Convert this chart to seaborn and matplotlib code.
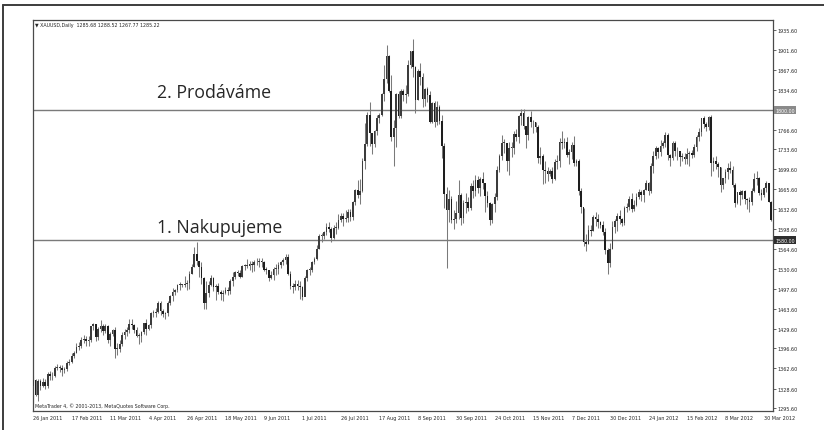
import seaborn as sns
import matplotlib.pyplot as plt
import pandas as pd
from matplotlib.lines import Line2D

# XAUUSD daily, 26 Jan 2011 .. 4 Apr 2012 (one entry per bar)
first_open = 1333
closes = [
    1343, 1318, 1341, 1333,  # Jan 2011
    1340, 1333, 1353, 1349, 1350, 1364, 1364, 1364, 1360, 1362, 1372, 1374, 1383, 1388, 1399, 1401, 1411, 1413, 1409, 1411,  # Feb
    1434, 1437, 1416, 1429, 1435, 1426, 1435, 1411, 1421, 1427, 1396, 1396, 1404, 1419, 1425, 1427, 1438, 1436, 1428, 1418, 1418, 1424, 1439,  # Mar
    1429, 1436, 1456, 1456, 1458, 1474, 1460, 1455, 1456, 1474, 1486, 1492, 1496, 1504, 1504, 1504, 1506, 1507, 1523, 1535, 1556,  # Apr
    1544, 1535, 1515, 1474, 1491, 1504, 1516, 1500, 1502, 1492, 1489, 1491, 1496, 1493, 1511, 1517, 1526, 1525, 1518, 1536, 1536, 1536,  # May
    1540, 1537, 1542, 1543, 1545, 1542, 1530, 1529, 1516, 1520, 1531, 1531, 1538, 1542, 1546, 1551, 1523, 1502, 1500, 1506, 1503, 1500,  # Jun
    1483, 1515, 1530, 1530, 1542, 1548, 1565, 1587, 1587, 1594, 1602, 1599, 1583, 1601, 1601, 1614, 1620, 1616, 1617, 1628,  # Jul
    1619, 1644, 1665, 1657, 1663, 1713, 1742, 1792, 1761, 1743, 1764, 1787, 1792, 1827, 1852, 1891, 1833, 1755, 1770, 1828, 1790, 1833, 1826,  # Aug
    1828, 1876, 1900, 1873, 1817, 1866, 1856, 1818, 1835, 1825, 1780, 1812, 1779, 1806, 1782, 1740, 1658, 1630, 1650, 1614, 1616, 1625,  # Sep
    1657, 1618, 1642, 1645, 1635, 1672, 1663, 1682, 1668, 1683, 1676, 1654, 1642, 1614, 1641, 1653, 1698, 1722, 1745, 1745, 1714,  # Oct
    1736, 1736, 1760, 1755, 1790, 1795, 1773, 1758, 1788, 1780, 1779, 1771, 1719, 1723, 1698, 1697, 1692, 1697, 1683, 1712, 1714, 1746,  # Nov
    1745, 1746, 1724, 1729, 1741, 1710, 1714, 1663, 1636, 1576, 1574, 1597, 1596, 1619, 1616, 1610, 1606, 1594, 1563, 1541, 1565,  # Dec
    1602, 1612, 1620, 1616, 1609, 1634, 1636, 1650, 1633, 1640, 1653, 1661, 1656, 1665, 1677, 1663, 1706, 1722, 1735, 1729, 1739,  # Jan 2012
    1745, 1757, 1724, 1719, 1745, 1731, 1730, 1721, 1721, 1718, 1726, 1728, 1724, 1737, 1755, 1763, 1786, 1776, 1772, 1788, 1711,  # Feb
    1713, 1709, 1703, 1673, 1685, 1696, 1702, 1698, 1673, 1643, 1661, 1657, 1663, 1649, 1648, 1644, 1663, 1684, 1685, 1660, 1657, 1668,  # Mar
    1677, 1645, 1614,  # Apr
]
highs = [
    1349, 1345, 1345, 1345,
    1346, 1345, 1356, 1358, 1357, 1367, 1370, 1368, 1369, 1365, 1376, 1378, 1388, 1392, 1405, 1408, 1416, 1420, 1417, 1418,
    1435, 1440, 1438, 1432, 1444, 1437, 1438, 1436, 1425, 1430, 1433, 1405, 1410, 1424, 1429, 1432, 1446, 1447, 1438, 1432, 1423, 1426, 1440,
    1446, 1438, 1458, 1462, 1465, 1477, 1476, 1464, 1458, 1476, 1487, 1498, 1497, 1505, 1509, 1506, 1519, 1512, 1527, 1540, 1569,
    1577, 1545, 1543, 1518, 1511, 1510, 1520, 1518, 1505, 1508, 1495, 1495, 1501, 1500, 1514, 1526, 1527, 1530, 1530, 1537, 1540, 1548,
    1545, 1545, 1547, 1549, 1550, 1549, 1545, 1535, 1530, 1527, 1534, 1540, 1542, 1545, 1550, 1557, 1557, 1528, 1507, 1512, 1513, 1510,
    1503, 1519, 1531, 1535, 1545, 1552, 1571, 1590, 1592, 1595, 1608, 1610, 1602, 1605, 1610, 1624, 1625, 1626, 1631, 1632,
    1632, 1646, 1667, 1681, 1684, 1719, 1778, 1797, 1814, 1762, 1767, 1792, 1795, 1829, 1877, 1911, 1893, 1860, 1783, 1829, 1833, 1836, 1836,
    1842, 1884, 1900, 1921, 1874, 1869, 1880, 1863, 1838, 1839, 1833, 1814, 1815, 1816, 1808, 1792, 1745, 1670, 1665, 1654, 1630, 1646,
    1681, 1660, 1648, 1660, 1653, 1676, 1682, 1690, 1689, 1686, 1695, 1665, 1663, 1645, 1643, 1660, 1706, 1725, 1758, 1751, 1745,
    1746, 1746, 1765, 1768, 1792, 1802, 1801, 1770, 1790, 1798, 1783, 1780, 1775, 1738, 1725, 1713, 1704, 1700, 1703, 1718, 1724, 1753,
    1765, 1752, 1755, 1734, 1746, 1756, 1718, 1718, 1668, 1634, 1590, 1605, 1606, 1622, 1628, 1624, 1612, 1612, 1601, 1567, 1575,
    1612, 1615, 1625, 1630, 1617, 1638, 1643, 1655, 1660, 1648, 1660, 1666, 1665, 1667, 1681, 1678, 1710, 1730, 1740, 1737, 1749,
    1748, 1763, 1761, 1725, 1747, 1748, 1738, 1730, 1727, 1728, 1735, 1731, 1733, 1743, 1757, 1770, 1787, 1790, 1780, 1790, 1791,
    1721, 1722, 1712, 1703, 1685, 1700, 1711, 1714, 1705, 1676, 1661, 1664, 1665, 1665, 1652, 1653, 1668, 1693, 1697, 1686, 1667, 1670,
    1680, 1677, 1646,
]
lows = [
    1327, 1316, 1308, 1326,
    1331, 1327, 1330, 1343, 1343, 1348, 1360, 1356, 1350, 1355, 1358, 1368, 1372, 1380, 1388, 1393, 1398, 1406, 1400, 1400,
    1408, 1428, 1409, 1410, 1425, 1420, 1422, 1406, 1401, 1418, 1381, 1386, 1390, 1400, 1413, 1417, 1422, 1430, 1422, 1416, 1404, 1408, 1421,
    1420, 1427, 1431, 1450, 1450, 1456, 1453, 1450, 1447, 1452, 1470, 1477, 1487, 1492, 1496, 1500, 1500, 1496, 1497, 1522, 1534,
    1538, 1517, 1505, 1463, 1463, 1484, 1502, 1494, 1478, 1489, 1479, 1476, 1489, 1487, 1489, 1503, 1514, 1519, 1515, 1517, 1530, 1532,
    1530, 1526, 1528, 1537, 1535, 1535, 1527, 1522, 1510, 1514, 1512, 1521, 1522, 1533, 1537, 1540, 1520, 1497, 1490, 1495, 1496, 1480,
    1478, 1490, 1510, 1520, 1526, 1539, 1546, 1564, 1576, 1582, 1589, 1594, 1576, 1582, 1590, 1598, 1610, 1604, 1610, 1611,
    1613, 1614, 1640, 1652, 1641, 1662, 1700, 1740, 1739, 1726, 1738, 1758, 1778, 1790, 1816, 1845, 1831, 1748, 1705, 1738, 1787, 1787, 1815,
    1812, 1824, 1871, 1856, 1795, 1817, 1843, 1805, 1807, 1814, 1778, 1778, 1771, 1774, 1776, 1719, 1635, 1532, 1611, 1608, 1598, 1608,
    1616, 1606, 1608, 1625, 1629, 1630, 1652, 1655, 1660, 1655, 1667, 1627, 1636, 1605, 1609, 1627, 1647, 1696, 1716, 1727, 1697,
    1690, 1721, 1725, 1747, 1745, 1775, 1768, 1735, 1750, 1771, 1762, 1763, 1711, 1708, 1675, 1676, 1680, 1689, 1676, 1682, 1700, 1704,
    1734, 1735, 1720, 1708, 1718, 1706, 1706, 1656, 1626, 1570, 1562, 1574, 1587, 1595, 1603, 1600, 1601, 1589, 1556, 1523, 1535,
    1565, 1592, 1595, 1607, 1603, 1606, 1627, 1630, 1627, 1629, 1637, 1649, 1646, 1645, 1664, 1656, 1660, 1693, 1717, 1719, 1723,
    1735, 1737, 1716, 1706, 1716, 1723, 1716, 1706, 1714, 1709, 1709, 1706, 1719, 1721, 1730, 1748, 1756, 1770, 1765, 1766, 1688,
    1697, 1700, 1687, 1662, 1666, 1677, 1684, 1693, 1670, 1636, 1641, 1640, 1649, 1641, 1633, 1627, 1639, 1661, 1674, 1656, 1647, 1653,
    1662, 1645, 1612,
]

date_labels = ['26 Jan 2011', '17 Feb 2011', '11 Mar 2011', '4 Apr 2011', '26 Apr 2011',
               '18 May 2011', '9 Jun 2011', '1 Jul 2011', '26 Jul 2011', '17 Aug 2011',
               '8 Sep 2011', '30 Sep 2011', '24 Oct 2011', '15 Nov 2011', '7 Dec 2011',
               '30 Dec 2011', '24 Jan 2012', '15 Feb 2012', '8 Mar 2012', '30 Mar 2012']
price_ticks = [1935.60, 1901.60, 1867.60, 1834.60, 1800.60, 1766.60, 1733.60, 1699.60,
               1665.60, 1632.60, 1598.60, 1564.60, 1530.60, 1497.60, 1463.60, 1429.60,
               1396.60, 1362.60, 1328.60, 1295.60]
levels = [1800.00, 1580.00]
level_texts = ['2. Prodáváme', '1. Nakupujeme']
level_boxes = ['#8a8a8a', '#2e2e2e']

df = pd.DataFrame({'close': closes, 'high': highs, 'low': lows})
df['open'] = [first_open] + closes[:-1]
df['bar'] = range(len(df))
df['up'] = df['close'] >= df['open']

sns.set_style('white')
plt.rcParams['font.family'] = ['DejaVu Sans']

fig = plt.figure(figsize=(8.24, 4.31), dpi=100)
ax = fig.add_axes([32.5 / 824, 1 - 411.5 / 431, (773 - 32.5) / 824, (411.5 - 21) / 431])

# wicks
ax.vlines(df['bar'], df['low'], df['high'], color='#7a7a7a', lw=0.75, zorder=2)
# bodies
body = (df['close'] - df['open']).abs().clip(lower=1.5)
bottom = df[['open', 'close']].min(axis=1)
colors = ['#3c3c3c' if u else '#1e1e1e' for u in df['up']]
ax.bar(df['bar'], body, bottom=bottom, width=0.72, color=colors, lw=0, zorder=3)

for lvl, txt, box in zip(levels, level_texts, level_boxes):
    ax.axhline(lvl, color='#7a7a7a', lw=1.0, zorder=1)
    ax.annotate(f'{lvl:.2f}', xy=(1.0, lvl), xycoords=('axes fraction', 'data'),
                xytext=(1.5, 0), textcoords='offset points', fontsize=3.4, color='white',
                ha='left', va='center', annotation_clip=False,
                bbox=dict(boxstyle='square,pad=0.3', fc=box, ec='none'))

ax.text(51.5, 1822, level_texts[0], family='Open Sans', fontsize=12.8, va='baseline', ha='left')
ax.text(51.5, 1594, level_texts[1], family='Open Sans', fontsize=12.8, va='baseline', ha='left')

ax.set_xlim(-0.3, 307.8)
ax.set_ylim(1291.4, 1952.5)
ax.yaxis.tick_right()
ax.set_yticks(price_ticks)
ax.set_yticklabels(['' if abs(p - 1800.6) < 0.01 else f'{p:.2f}' for p in price_ticks])
ax.set_xticks(list(range(0, 16 * len(date_labels), 16)))
ax.set_xticklabels(date_labels)
for lbl in ax.get_xticklabels():
    lbl.set_ha('left')
ax.tick_params(axis='both', direction='out', length=2, width=0.6, color='#4a4a4a',
               labelsize=3.5, pad=1.5)
for sp in ax.spines.values():
    sp.set_visible(True)
    sp.set_color('#4a4a4a')
    sp.set_linewidth(0.9)

fig.text(35 / 824, 1 - 25 / 431, '▼ XAUUSD,Daily  1285.68 1288.52 1267.77 1285.22',
         fontsize=3.4, va='center', ha='left')
fig.text(35 / 824, 1 - 406 / 431, 'MetaTrader 4, © 2001-2013, MetaQuotes Software Corp.',
         fontsize=3.4, va='center', ha='left')

# window frame (top and left)
fig.add_artist(Line2D([3 / 824, 1.0], [1 - 6 / 431, 1 - 6 / 431], color='#3c3c3c', lw=1.4))
fig.add_artist(Line2D([3 / 824, 3 / 824], [0.0, 1 - 6 / 431], color='#3c3c3c', lw=1.4))

fig.savefig('out.png', dpi=100)
